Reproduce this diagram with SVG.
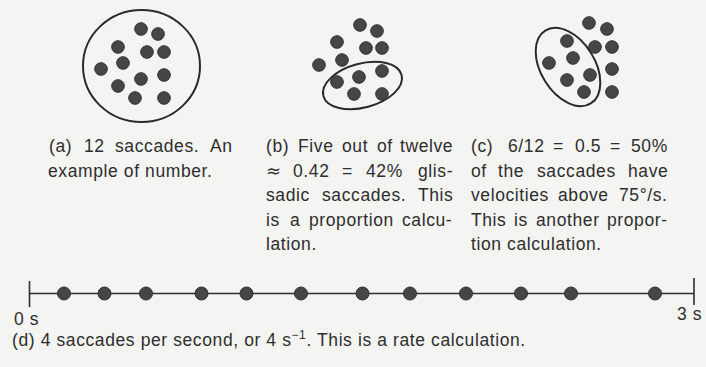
<svg xmlns="http://www.w3.org/2000/svg" width="706" height="367" viewBox="0 0 706 367">
<style>
.t{font-family:"Liberation Sans",Arial,sans-serif;font-size:17.5px;letter-spacing:0.6px;fill:#2e2e2e}
.dot{fill:#464646;stroke:#2f2f2f;stroke-width:1}
.ring{fill:none;stroke:#2a2a2a;stroke-width:2}
.ax{stroke:#2e2e2e;stroke-width:1.6;fill:none}
</style>
<rect width="706" height="367" fill="#f4f4f2"/>
<g id="set-a">
<ellipse class="ring" cx="141.5" cy="66" rx="58.5" ry="56"/>
<circle class="dot" cx="141" cy="29" r="6.3"/>
<circle class="dot" cx="158" cy="34" r="6.3"/>
<circle class="dot" cx="118" cy="47" r="6.3"/>
<circle class="dot" cx="147" cy="52" r="6.3"/>
<circle class="dot" cx="164" cy="52" r="6.3"/>
<circle class="dot" cx="123" cy="63" r="6.3"/>
<circle class="dot" cx="101" cy="69" r="6.3"/>
<circle class="dot" cx="164" cy="75" r="6.3"/>
<circle class="dot" cx="141" cy="79" r="6.3"/>
<circle class="dot" cx="118" cy="86" r="6.3"/>
<circle class="dot" cx="135" cy="98" r="6.3"/>
<circle class="dot" cx="164" cy="98" r="6.3"/>
</g>
<g id="set-b">
<ellipse class="ring" cx="362.5" cy="85.5" rx="40.5" ry="22" transform="rotate(-15 362.5 85.5)"/>
<circle class="dot" cx="360" cy="25" r="6.3"/>
<circle class="dot" cx="377" cy="31" r="6.3"/>
<circle class="dot" cx="337" cy="42" r="6.3"/>
<circle class="dot" cx="366" cy="48" r="6.3"/>
<circle class="dot" cx="382" cy="48" r="6.3"/>
<circle class="dot" cx="342" cy="60" r="6.3"/>
<circle class="dot" cx="319" cy="65" r="6.3"/>
<circle class="dot" cx="382" cy="71" r="6.3"/>
<circle class="dot" cx="359" cy="77" r="6.3"/>
<circle class="dot" cx="337" cy="82" r="6.3"/>
<circle class="dot" cx="354" cy="94" r="6.3"/>
<circle class="dot" cx="382" cy="94" r="6.3"/>
</g>
<g id="set-c">
<ellipse class="ring" cx="568" cy="67" rx="43" ry="27" transform="rotate(58 568 67)"/>
<circle class="dot" cx="589" cy="23" r="6.3"/>
<circle class="dot" cx="607" cy="29" r="6.3"/>
<circle class="dot" cx="567" cy="41" r="6.3"/>
<circle class="dot" cx="595" cy="47" r="6.3"/>
<circle class="dot" cx="612" cy="47" r="6.3"/>
<circle class="dot" cx="573" cy="58" r="6.3"/>
<circle class="dot" cx="549" cy="63" r="6.3"/>
<circle class="dot" cx="612" cy="69" r="6.3"/>
<circle class="dot" cx="590" cy="75" r="6.3"/>
<circle class="dot" cx="567" cy="80" r="6.3"/>
<circle class="dot" cx="584" cy="92" r="6.3"/>
<circle class="dot" cx="612" cy="92" r="6.3"/>
</g>
<g id="caption-a" class="t">
<text y="152"><tspan x="49">(a)</tspan><tspan x="84">12</tspan><tspan x="115">saccades.</tspan><tspan x="210">An</tspan></text>
<text x="48" y="176.5">example of number.</text>
</g>
<g id="caption-b" class="t">
<text y="152"><tspan x="266">(b)</tspan><tspan x="298">Five</tspan><tspan x="342">out</tspan><tspan x="377">of</tspan><tspan x="400">twelve</tspan></text>
<text y="176.5"><tspan x="266" style="font-family:'DejaVu Sans',sans-serif;font-size:18px">≈</tspan><tspan x="293">0.42</tspan><tspan x="342">=</tspan><tspan x="366">42%</tspan><tspan x="418">glis-</tspan></text>
<text y="201"><tspan x="266">sadic</tspan><tspan x="322">saccades.</tspan><tspan x="418">This</tspan></text>
<text y="225.5"><tspan x="266">is</tspan><tspan x="290">a</tspan><tspan x="309">proportion</tspan><tspan x="402">calcu-</tspan></text>
<text x="266" y="250">lation.</text>
</g>
<g id="caption-c" class="t">
<text y="152"><tspan x="471">(c)</tspan><tspan x="508">6/12</tspan><tspan x="553">=</tspan><tspan x="575">0.5</tspan><tspan x="610">=</tspan><tspan x="631">50%</tspan></text>
<text y="176.5"><tspan x="471">of</tspan><tspan x="498">the</tspan><tspan x="537">saccades</tspan><tspan x="628">have</tspan></text>
<text y="201"><tspan x="471">velocities</tspan><tspan x="558">above</tspan><tspan x="619">75°/s.</tspan></text>
<text y="225.5"><tspan x="471">This</tspan><tspan x="514">is</tspan><tspan x="536">another</tspan><tspan x="607">propor-</tspan></text>
<text x="471" y="250">tion calculation.</text>
</g>
<g id="timeline">
<line class="ax" x1="29.5" y1="293.5" x2="694" y2="293.5"/>
<line class="ax" x1="29.5" y1="281" x2="29.5" y2="307"/>
<line class="ax" x1="694" y1="278" x2="694" y2="305"/>
<circle class="dot" cx="64" cy="293.5" r="6.5"/>
<circle class="dot" cx="104.5" cy="293.5" r="6.5"/>
<circle class="dot" cx="146" cy="293.5" r="6.5"/>
<circle class="dot" cx="201.5" cy="293.5" r="6.5"/>
<circle class="dot" cx="246.5" cy="293.5" r="6.5"/>
<circle class="dot" cx="301" cy="293.5" r="6.5"/>
<circle class="dot" cx="362.5" cy="293.5" r="6.5"/>
<circle class="dot" cx="410" cy="293.5" r="6.5"/>
<circle class="dot" cx="466" cy="293.5" r="6.5"/>
<circle class="dot" cx="521" cy="293.5" r="6.5"/>
<circle class="dot" cx="571" cy="293.5" r="6.5"/>
<circle class="dot" cx="655" cy="293.5" r="6.5"/>
<text class="t" x="14" y="325">0 s</text>
<text class="t" x="677" y="320">3 s</text>
</g>
<g id="caption-d" class="t">
<text x="12" y="346">(d) 4 saccades per second, or 4 s<tspan font-size="12" dy="-7">−1</tspan><tspan dy="7">. This is a rate calculation.</tspan></text>
</g>
</svg>
